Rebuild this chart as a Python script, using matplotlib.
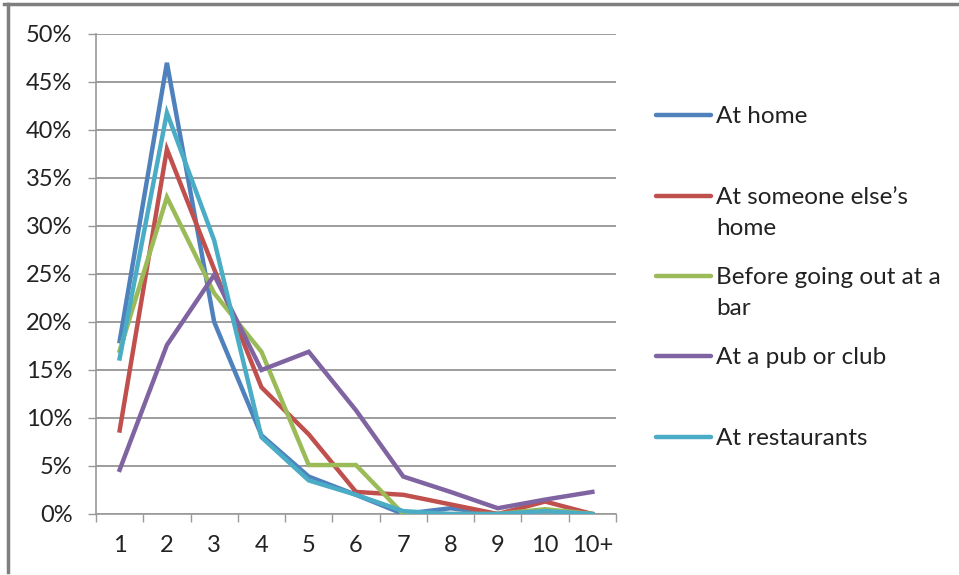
import matplotlib.pyplot as plt
from matplotlib.lines import Line2D
from matplotlib.ticker import FixedLocator, FuncFormatter

plt.rcParams['font.family'] = ['Lato', 'DejaVu Sans']

categories = ['1', '2', '3', '4', '5', '6', '7', '8', '9', '10', '10+']
series_names = ['At home', 'At someone else\u2019s\nhome', 'Before going out at a\nbar',
                'At a pub or club', 'At restaurants']
at_home = [18.0, 47.0, 20.0, 8.2, 3.9, 2.0, 0.0, 0.6, 0.0, 0.4, 0.0]
someone_else = [8.7, 38.0, 25.5, 13.2, 8.3, 2.3, 2.0, 1.0, 0.0, 1.3, 0.0]
before_bar = [17.0, 33.0, 23.0, 16.9, 5.1, 5.1, 0.0, 0.0, 0.0, 0.5, 0.0]
pub_club = [4.6, 17.6, 24.9, 15.0, 16.9, 10.8, 3.9, 2.3, 0.6, 1.5, 2.3]
restaurants = [16.2, 41.8, 28.5, 8.0, 3.5, 2.0, 0.3, 0.0, 0.0, 0.3, 0.0]
all_series = [at_home, someone_else, before_bar, pub_club, restaurants]
colors = ['#4F81BD', '#C0504D', '#9BBB59', '#8064A2', '#4BACC6']

fig = plt.figure(figsize=(9.59, 5.75), dpi=100)
ax = fig.add_axes([96 / 959, 1 - 514 / 575, 520 / 959, 480 / 575])

x = list(range(1, len(categories) + 1))
for vals, c in zip(all_series, colors):
    ax.plot(x, vals, color=c, lw=3.2, solid_joinstyle='miter', zorder=3)

ax.set_xlim(0.5, len(categories) + 0.5)
ax.set_ylim(0, 50)
ax.yaxis.set_major_locator(FixedLocator(range(0, 51, 5)))
ax.yaxis.set_major_formatter(FuncFormatter(lambda v, p: '%d%%' % v))
ax.set_xticks(x)
ax.set_xticklabels(categories)
ax.xaxis.set_minor_locator(FixedLocator([i + 0.5 for i in range(0, len(categories) + 1)]))
ax.tick_params(axis='x', which='major', length=0, pad=15, labelsize=17, colors='#222222')
ax.tick_params(axis='x', which='minor', length=6, color='#999999', width=1)
ax.tick_params(axis='y', length=6, width=1, pad=11, labelsize=17, colors='#222222')
ax.tick_params(axis='y', color='#999999')
ax.grid(axis='y', color='#8c8c8c', lw=1.2, zorder=0)
for s in ['top', 'right']:
    ax.spines[s].set_visible(False)
for s in ['left', 'bottom']:
    ax.spines[s].set_color('#999999')
    ax.spines[s].set_linewidth(1.2)

# legend, placed by hand like the Excel one
leg_y = [115, 196, 276, 356, 437]
for name, c, yy in zip(series_names, colors, leg_y):
    fy = 1 - yy / 575
    fig.add_artist(Line2D([656 / 959, 711 / 959], [fy, fy], color=c, lw=3.2,
                          solid_capstyle='round'))
    fig.text(716 / 959, fy + 9 / 575, name, fontsize=17.5, va='top', color='#222222',
             linespacing=1.6)

# outer frame: top and left edges only
fig.add_artist(Line2D([4 / 959, 1.0], [1 - 4 / 575, 1 - 4 / 575], color='#7f7f7f', lw=2.5))
fig.add_artist(Line2D([8 / 959, 8 / 959], [1 - 4 / 575, 1 - 572 / 575], color='#7f7f7f', lw=2.5))

fig.savefig('out.png', dpi=100)
